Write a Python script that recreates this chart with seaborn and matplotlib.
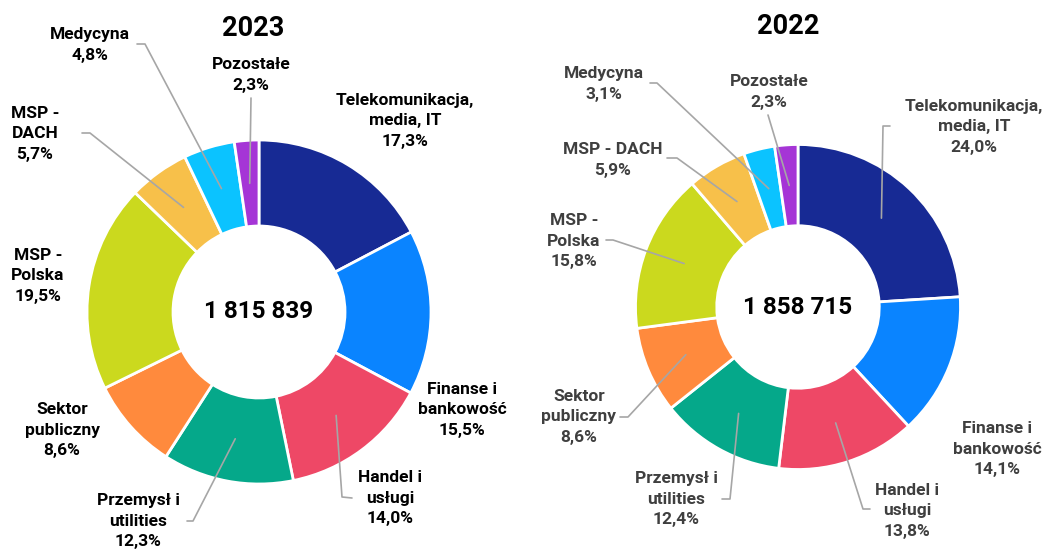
import numpy as np
import matplotlib.pyplot as plt
import seaborn as sns

# Branże (kolejność zgodnie z ruchem wskazówek zegara od góry)
sectors = ["Telekomunikacja,\nmedia, IT", "Finanse i\nbankowość", "Handel i\nusługi",
           "Przemysł i\nutilities", "Sektor\npubliczny", "MSP -\nPolska",
           "MSP -\nDACH", "Medycyna", "Pozostałe"]
sectors_2022 = ["Telekomunikacja,\nmedia, IT", "Finanse i\nbankowość", "Handel i\nusługi",
                "Przemysł i\nutilities", "Sektor\npubliczny", "MSP -\nPolska",
                "MSP - DACH", "Medycyna", "Pozostałe"]
share_2023 = [17.3, 15.5, 14.0, 12.3, 8.6, 19.5, 5.7, 4.8, 2.3]
share_2022 = [24.0, 14.1, 13.8, 12.4, 8.6, 15.8, 5.9, 3.1, 2.3]
total_2023 = "1 815 839"
total_2022 = "1 858 715"

colors = ["#172A94", "#0A84FF", "#EE4866", "#05A88A", "#FF8A3D",
          "#CBD91E", "#F7C04A", "#0BC3FF", "#A535D6"]

sns.set_theme(style="white")
plt.rcParams["font.family"] = ["Roboto", "DejaVu Sans"]

W, H = 1047, 549
fig = plt.figure(figsize=(W / 100, H / 100), dpi=100)
ax = fig.add_axes([0, 0, 1, 1])


def P(x, y):
    # piksele obrazka -> współrzędne osi (y w górę)
    return x, H - y


# pozycje etykiet (środek bloku) i punkty łamania linii odniesienia (None = brak linii)
layout_2023 = [
    ((405, 121), None),
    ((462, 410), None),
    ((390, 498), [(352, 498), (342, 497)]),
    ((138, 521), [(187, 521), (193, 521)]),
    ((62, 430), None),
    ((38, 276), None),
    ((35, 134), [(82, 133), (90, 133)]),
    ((90, 45), [(137, 44), (145, 44)]),
    ((251, 75), [(251, 98)]),
]
layout_2022 = [
    ((974, 127), [(890, 126), (883, 126)]),
    ((997, 449), None),
    ((907, 511), [(870, 509), (863, 509)]),
    ((676, 499), [(722, 499), (730, 499)]),
    ((579, 417), [(620, 417), (628, 417)]),
    ((574, 241), [(606, 240), (613, 240)]),
    ((613, 160), [(667, 158), (677, 158)]),
    ((604, 84), [(650, 83), (657, 83)]),
    ((769, 92), [(768, 115)]),
]


def donut(values, names, center, radius, total, title, title_pos, layout, txt_color):
    cx, cy = P(*center)
    wedges, _ = ax.pie(values, radius=radius, center=(cx, cy), startangle=90,
                       counterclock=False, colors=colors,
                       wedgeprops=dict(width=radius * 0.5, edgecolor="white", linewidth=2))
    for w, name, val, (lab, pts) in zip(wedges, names, values, layout):
        lx, ly = P(*lab)
        ax.text(lx, ly, f"{name}\n{val:.1f}%".replace(".", ","), ha="center", va="center",
                fontsize=12.5, fontweight="bold", color=txt_color, linespacing=1.45, zorder=5)
        if pts:
            mid = np.deg2rad((w.theta1 + w.theta2) / 2)
            ax_, ay_ = cx + 0.75 * radius * np.cos(mid), cy + 0.75 * radius * np.sin(mid)
            xs = [P(*p)[0] for p in pts] + [ax_]
            ys = [P(*p)[1] for p in pts] + [ay_]
            ax.plot(xs, ys, color="#A6A6A6", lw=1.2, zorder=4)
    ax.text(cx, cy, total, ha="center", va="center", fontsize=17.5,
            fontweight="bold", color="black", zorder=5)
    tx, ty = P(*title_pos)
    ax.text(tx, ty, title, ha="center", va="center", fontsize=19.5,
            fontweight="bold", color="black")


donut(share_2023, sectors, (259, 312), 172, total_2023, "2023", (253, 29),
      layout_2023, "black")
donut(share_2022, sectors_2022, (798, 307), 162.5, total_2022, "2022", (788, 26),
      layout_2022, "#3F3F3F")

ax.set_xlim(0, W)
ax.set_ylim(0, H)
ax.set_aspect("auto")
ax.axis("off")

fig.savefig("out.png", dpi=100, facecolor="white")
